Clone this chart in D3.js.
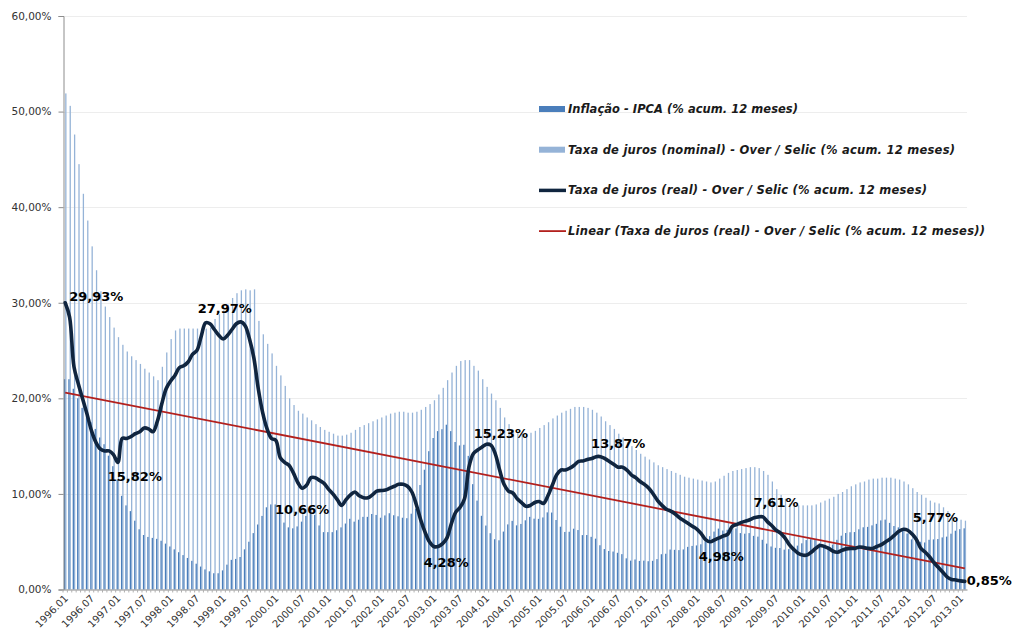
<!DOCTYPE html>
<html>
<head>
<meta charset="utf-8">
<script src="https://cdn.jsdelivr.net/npm/d3@7"></script>
<style>
  body { margin: 0; background: #ffffff; }
  svg { display: block; }
</style>
</head>
<body>
<script>
// ---------------- DATA ----------------
const startYear = 1996;
const monthCount = 206; // 1996.01 .. 2013.02

const xTickLabels = ["1996.01","1996.07","1997.01","1997.07","1998.01","1998.07","1999.01","1999.07",
  "2000.01","2000.07","2001.01","2001.07","2002.01","2002.07","2003.01","2003.07","2004.01","2004.07",
  "2005.01","2005.07","2006.01","2006.07","2007.01","2007.07","2008.01","2008.07","2009.01","2009.07",
  "2010.01","2010.07","2011.01","2011.07","2012.01","2012.07","2013.01"];

const yTicks = [0, 10, 20, 30, 40, 50, 60];

// Inflação - IPCA (% acum. 12 meses)
const ipca = [
  22.0, 22.0, 21.0, 20.0, 19.0, 18.2, 17.5, 16.8, 15.9, 15.2, 14.0, 12.9,
  11.5, 9.8, 8.8, 8.2, 7.2, 6.3, 5.7, 5.5, 5.4, 5.3, 5.1, 4.8,
  4.5, 4.2, 3.9, 3.6, 3.3, 3.0, 2.7, 2.4, 2.1, 1.9, 1.7, 1.7,
  2.0, 2.6, 3.1, 3.2, 3.4, 4.2, 5.0, 5.9, 6.8, 7.7, 8.6, 8.9,
  8.9, 8.0, 7.0, 6.5, 6.4, 6.6, 7.1, 7.7, 8.4, 7.8, 6.7, 6.0,
  6.0, 6.0, 6.2, 6.5, 6.9, 7.4, 7.1, 7.3, 7.6, 7.6, 7.9, 7.8,
  7.51, 7.75, 7.98, 7.77, 7.66, 7.51, 7.46, 7.93, 8.45, 10.93, 12.53, 14.47,
  15.85, 16.57, 16.77, 17.24, 16.57, 15.43, 15.07, 15.14, 13.98, 11.02, 9.30, 7.71,
  6.69, 5.89, 5.26, 5.15, 6.06, 6.81, 7.18, 6.71, 6.86, 7.24, 7.60, 7.41,
  7.39, 7.54, 8.07, 8.05, 7.27, 6.57, 6.02, 6.04, 6.36, 6.22, 5.69, 5.70,
  5.51, 5.32, 4.63, 4.23, 4.03, 3.97, 3.84, 3.70, 3.26, 3.02, 3.14, 2.99,
  3.02, 2.96, 3.00, 3.18, 3.69, 3.74, 4.18, 4.15, 4.12, 4.19, 4.46, 4.56,
  4.61, 4.73, 5.04, 5.58, 6.06, 6.37, 6.17, 6.25, 6.41, 6.39, 5.90, 5.84,
  5.90, 5.61, 5.53, 5.20, 4.80, 4.50, 4.36, 4.34, 4.17, 4.22, 4.31, 4.59,
  4.83, 5.17, 5.26, 5.22, 4.84, 4.60, 4.49, 4.70, 5.20, 5.63, 5.91, 5.99,
  6.01, 6.30, 6.51, 6.55, 6.71, 6.87, 7.23, 7.31, 6.97, 6.64, 6.50, 6.22,
  5.85, 5.24, 5.10, 4.99, 4.92, 5.20, 5.24, 5.28, 5.45, 5.53, 5.84, 6.15,
  6.31, 6.40
];

// Taxa de juros (nominal) - Over / Selic (% acum. 12 meses)
const selicNominal = [
  51.9, 50.6, 47.6, 44.5, 41.4, 38.6, 35.9, 33.4, 31.2, 29.6, 28.5, 27.4,
  26.4, 25.6, 24.9, 24.4, 24.0, 23.6, 23.1, 22.7, 22.3, 21.9, 23.3, 24.8,
  26.2, 27.1, 27.3, 27.3, 27.3, 27.3, 27.3, 27.3, 27.3, 27.4, 28.3, 28.8,
  29.2, 29.8, 30.5, 31.0, 31.3, 31.4, 31.3, 31.4, 28.1, 26.7, 25.7, 24.7,
  23.4, 22.4, 21.3, 20.0, 19.3, 18.7, 18.4, 18.0, 17.7, 17.3, 17.0, 16.7,
  16.5, 16.3, 16.1, 16.1, 16.2, 16.4, 16.7, 17.0, 17.2, 17.4, 17.6, 17.8,
  18.0, 18.2, 18.4, 18.5, 18.6, 18.6, 18.5, 18.5, 18.6, 18.8, 19.1, 19.4,
  19.8, 20.4, 21.1, 21.9, 22.7, 23.4, 23.9, 24.0, 24.0, 23.4, 22.9, 22.0,
  21.2, 20.5, 19.8, 19.0, 18.0, 17.3, 16.7, 16.4, 16.3, 16.3, 16.4, 16.6,
  16.9, 17.2, 17.5, 17.9, 18.2, 18.5, 18.7, 18.9, 19.1, 19.1, 19.1, 19.0,
  18.8, 18.5, 18.1, 17.6, 17.2, 16.8, 16.3, 15.9, 15.4, 15.0, 14.6, 14.2,
  13.9, 13.6, 13.3, 13.0, 12.8, 12.6, 12.4, 12.2, 12.0, 11.8, 11.7, 11.6,
  11.5, 11.4, 11.3, 11.2, 11.3, 11.6, 11.9, 12.2, 12.4, 12.5, 12.6, 12.7,
  12.8, 12.8, 12.7, 12.4, 12.0, 11.3, 10.5, 9.9, 9.5, 9.0, 8.9, 8.8,
  8.8, 8.8, 8.8, 8.9, 9.1, 9.3, 9.5, 9.7, 10.0, 10.2, 10.5, 10.8,
  11.0, 11.2, 11.3, 11.5, 11.6, 11.6, 11.7, 11.7, 11.7, 11.6, 11.5, 11.3,
  11.0, 10.6, 10.2, 9.9, 9.6, 9.3, 9.1, 9.0, 8.6, 8.2, 7.8, 7.5,
  7.3, 7.2
];

// Taxa de juros (real) - Over / Selic (% acum. 12 meses)
const selicReal = [
  30.0, 28.5, 23.3, 21.5, 19.9, 18.3, 16.6, 15.4, 14.7, 14.5, 14.5, 14.1,
  13.3, 15.8, 15.8, 16.0, 16.3, 16.5, 16.9, 16.8, 16.5, 17.6, 19.4, 21.0,
  21.8, 22.4, 23.2, 23.4, 23.8, 24.6, 25.0, 26.5, 27.9, 27.8, 27.2, 26.6,
  26.2, 26.6, 27.2, 27.8, 28.0, 27.6, 26.2, 24.2, 21.0, 18.5, 16.8, 15.8,
  15.6, 13.8, 13.3, 13.0, 12.2, 11.2, 10.6, 10.9, 11.7, 11.7, 11.4, 11.1,
  10.5, 10.0, 9.4, 8.8, 9.4, 9.9, 10.2, 9.8, 9.6, 9.6, 9.9, 10.3,
  10.35, 10.4, 10.6, 10.8, 11.0, 11.0, 10.8, 10.2, 8.9, 7.3, 6.0, 5.0,
  4.5, 4.5, 4.8, 5.4, 6.9, 8.1, 8.6, 9.5, 12.8, 14.2, 14.6, 14.9,
  15.2, 15.1, 14.2, 12.5, 11.0, 10.3, 10.1, 9.5, 9.1, 8.7, 8.8, 9.1,
  9.2, 9.0, 9.8, 10.9, 12.0, 12.5, 12.5, 12.7, 13.0, 13.4, 13.45, 13.6,
  13.7, 13.9, 13.9, 13.7, 13.4, 13.1, 12.8, 12.8, 12.5, 12.0, 11.7, 11.3,
  11.0, 10.6, 10.0, 9.3, 8.8, 8.4, 8.2, 7.9, 7.5, 7.2, 6.9, 6.6,
  6.3, 5.8, 5.2, 5.0, 5.2, 5.4, 5.6, 5.8, 6.6, 6.8, 7.0, 7.15,
  7.3, 7.5, 7.6, 7.6, 7.1, 6.7, 6.2, 5.9, 5.4, 4.7, 4.2, 3.8,
  3.6, 3.6, 3.9, 4.3, 4.6, 4.5, 4.3, 4.0, 3.9, 4.1, 4.25, 4.3,
  4.3, 4.45, 4.4, 4.3, 4.3, 4.5, 4.7, 5.0, 5.3, 5.7, 6.1, 6.3,
  6.2, 5.8, 5.2, 4.3, 3.9, 3.4, 2.8, 2.3, 1.8, 1.3, 1.05, 1.0,
  0.9, 0.85
];

// Linear trend of the real rate (start, end values)
const trendEnds = [20.6, 2.2];

// Data labels
const labelMonths = ["1996.01","1997.01","1999.05","2000.07","2003.02","2004.02","2006.02","2008.04","2009.04","2011.12","2013.02"];
const labelTexts  = ["29,93%","15,82%","27,97%","10,66%","4,28%","15,23%","13,87%","4,98%","7,61%","5,77%","0,85%"];

const legendLabels = [
  "Inflação - IPCA (% acum. 12 meses)",
  "Taxa de juros (nominal) - Over / Selic (% acum. 12 meses)",
  "Taxa de juros (real) - Over / Selic (% acum. 12 meses)",
  "Linear (Taxa de juros (real) - Over / Selic (% acum. 12 meses))"
];

// ---------------- CHART ----------------
const months = [];
for (let i = 0; i < monthCount; i++) {
  const yr = startYear + Math.floor(i / 12);
  const m = (i % 12) + 1;
  months.push(yr + "." + (m < 10 ? "0" + m : m));
}

const W = 1024, H = 640;
const plot = { left: 63, right: 967, top: 16, bottom: 589.5 };

const colors = {
  ipca: "#4a7ebb",
  nominal: "#95b3d7",
  real: "#10253f",
  trend: "#b3201d",
  grid: "#ededed",
  axis: "#8c8c8c",
  text: "#333333"
};

const svg = d3.select("body").append("svg").attr("width", W).attr("height", H);

const x = d3.scaleBand().domain(months).range([plot.left, plot.right]).paddingInner(0).paddingOuter(0);
const bw = x.bandwidth();
const x1 = d3.scaleBand().domain(["ipca", "nominal"]).range([0, bw]).paddingInner(0).paddingOuter(0.7);
const y = d3.scaleLinear().domain([0, 60]).range([plot.bottom, plot.top]);
const cx = m => x(m) + bw / 2;

const fmt = v => v.toFixed(2).replace(".", ",") + "%";

// gridlines
svg.append("g").selectAll("line").data(yTicks.filter(d => d > 0)).join("line")
  .attr("x1", plot.left).attr("x2", plot.right)
  .attr("y1", d => Math.round(y(d)) + 0.5).attr("y2", d => Math.round(y(d)) + 0.5)
  .attr("stroke", colors.grid).attr("stroke-width", 1);

// bars
const barG = svg.append("g");
barG.selectAll("rect.nom").data(months).join("rect").attr("class", "nom")
  .attr("x", (m) => x(m) + x1("nominal"))
  .attr("width", x1.bandwidth())
  .attr("y", (m, i) => y(selicNominal[i]))
  .attr("height", (m, i) => y(0) - y(selicNominal[i]))
  .attr("fill", colors.nominal);
barG.selectAll("rect.ipca").data(months).join("rect").attr("class", "ipca")
  .attr("x", (m) => x(m) + x1("ipca"))
  .attr("width", x1.bandwidth())
  .attr("y", (m, i) => y(ipca[i]))
  .attr("height", (m, i) => y(0) - y(ipca[i]))
  .attr("fill", colors.ipca);

// y axis
const yAxis = d3.axisLeft(y).tickValues(yTicks).tickFormat(fmt).tickSize(5).tickPadding(7);
const yg = svg.append("g").attr("transform", `translate(${plot.left + 0.5},0)`).call(yAxis);
yg.select(".domain").attr("stroke", colors.axis);
yg.selectAll(".tick line").attr("stroke", colors.axis);
yg.selectAll(".tick text").attr("font-family", "DejaVu Sans, sans-serif").attr("font-size", "10.5px").attr("fill", colors.text);

// x axis
const xAxis = d3.axisBottom(x).tickValues(months).tickFormat("").tickSize(3).tickSizeOuter(0);
const xg = svg.append("g").attr("transform", `translate(0,${plot.bottom})`).call(xAxis);
xg.select(".domain").attr("stroke", colors.axis);
xg.selectAll(".tick line").attr("stroke", "#b0b0b0").attr("transform", `translate(${-bw / 2},0)`);

svg.append("g").selectAll("text").data(xTickLabels).join("text")
  .attr("transform", d => `translate(${cx(d) + 1},${plot.bottom + 7}) rotate(-45)`)
  .attr("text-anchor", "end")
  .attr("dy", "0.35em")
  .attr("font-family", "DejaVu Sans, sans-serif")
  .attr("font-size", "10px")
  .attr("fill", colors.text)
  .text(d => d);

// trend line
svg.append("line")
  .attr("x1", cx(months[0])).attr("y1", y(trendEnds[0]))
  .attr("x2", cx(months[monthCount - 1])).attr("y2", y(trendEnds[1]))
  .attr("stroke", colors.trend).attr("stroke-width", 1.8);

// real rate line
const line = d3.line().x((d, i) => cx(months[i])).y(d => y(d)).curve(d3.curveCatmullRom.alpha(0.5));
svg.append("path").datum(selicReal)
  .attr("d", line)
  .attr("fill", "none")
  .attr("stroke", colors.real)
  .attr("stroke-width", 3.6)
  .attr("stroke-linejoin", "round")
  .attr("stroke-linecap", "round");

// data labels (placement offsets in px)
const labelPlacement = [
  [4, -6, "start"], [17, 14, "middle"], [-16, -13, "middle"], [0, 21, "middle"],
  [8, 16, "middle"], [10, -12, "middle"], [22, -13, "middle"], [11, 15, "middle"],
  [13, -14, "middle"], [32, -12, "middle"], [2, -1, "start"]
];
svg.append("g").selectAll("text").data(labelMonths).join("text")
  .attr("x", (m, i) => cx(m) + labelPlacement[i][0])
  .attr("y", (m, i) => y(selicReal[months.indexOf(m)]) + labelPlacement[i][1])
  .attr("dy", "0.35em")
  .attr("text-anchor", (m, i) => labelPlacement[i][2])
  .attr("font-family", "DejaVu Sans, sans-serif")
  .attr("font-weight", "bold")
  .attr("font-size", "13px")
  .attr("fill", "#000")
  .text((m, i) => labelTexts[i]);

// legend
const legendX = 539, legendY0 = 109, legendStep = 40.7;
const legendTextWidths = [230, 387, 359, 417];
const lg = svg.append("g");
legendLabels.forEach((t, i) => {
  const yy = legendY0 + i * legendStep;
  if (i === 0 || i === 1) {
    lg.append("rect").attr("x", legendX).attr("y", yy - 3).attr("width", 26).attr("height", 6)
      .attr("fill", i === 0 ? colors.ipca : colors.nominal);
  } else {
    lg.append("line").attr("x1", legendX).attr("x2", legendX + 27).attr("y1", yy).attr("y2", yy)
      .attr("stroke", i === 2 ? colors.real : colors.trend).attr("stroke-width", i === 2 ? 3.5 : 1.8);
  }
  lg.append("text").attr("x", legendX + 29).attr("y", yy).attr("dy", "0.35em")
    .attr("font-family", "DejaVu Sans, sans-serif")
    .attr("font-style", "italic").attr("font-weight", "bold")
    .attr("font-size", "11.5px").attr("fill", "#1a1a1a")
    .attr("textLength", legendTextWidths[i]).attr("lengthAdjust", "spacing")
    .text(t);
});
</script>
</body>
</html>
